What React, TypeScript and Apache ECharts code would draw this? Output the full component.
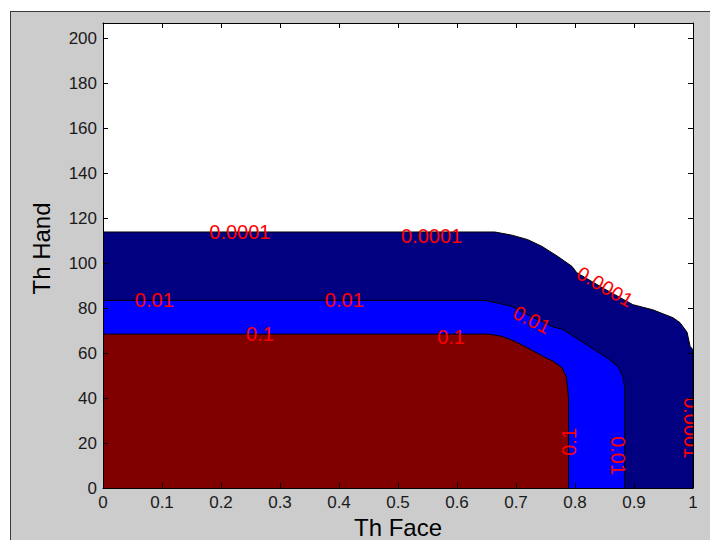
import React, { useEffect, useRef } from "react";
import * as echarts from "echarts";

// Contour boundaries: [Th Face, Th Hand]
const contour0001: number[][] = [
  [0, 113.8], [0.664, 113.8], [0.693, 112.4], [0.72, 110.4], [0.744, 107.4],
  [0.771, 102.9], [0.795, 98.5], [0.803, 95.7], [0.85, 88.5], [0.898, 81.5],
  [0.932, 79.2], [0.966, 75.7], [0.978, 73.5], [0.99, 69.2], [0.995, 63.0],
  [1.0, 61.5], [1.0, 0],
];
const contour001: number[][] = [
  [0, 83.4], [0.647, 83.4], [0.669, 82.2], [0.693, 80.7], [0.72, 77.0],
  [0.761, 71.8], [0.78, 70.4], [0.814, 64.6], [0.854, 57.9], [0.873, 53.9],
  [0.881, 49.5], [0.884, 45.0], [0.884, 0],
];
const contour01: number[][] = [
  [0, 68.4], [0.653, 68.4], [0.676, 67.4], [0.698, 65.2], [0.72, 62.2],
  [0.746, 58.5], [0.763, 56.3], [0.778, 53.5], [0.785, 49.6], [0.787, 45.2],
  [0.789, 40], [0.789, 0],
];

const levelNames = ["0.0001", "0.01", "0.1"];
const levelColors = ["#000080", "#0000ff", "#800000"];

// Contour labels: text, Th Face, Th Hand, angle (deg, counter-clockwise)
const labelTexts = ["0.0001", "0.0001", "0.0001", "0.0001", "0.01", "0.01", "0.01", "0.01", "0.1", "0.1", "0.1"];
const labelX = [0.232, 0.557, 0.851, 0.996, 0.087, 0.409, 0.727, 0.873, 0.266, 0.59, 0.79];
const labelY = [113.9, 112.2, 89.5, 26.8, 83.5, 83.5, 74.8, 14.4, 68.4, 67.0, 20.5];
const labelAngle = [0, 0, -30, -90, 0, 0, -27, -90, 0, 0, 90];

const xMin = 0;
const xMax = 1;
const xStep = 0.1;
const yMin = 0;
const yMax = 206.7;
const yStep = 20;

const FONT = 'Arial, "Liberation Sans", Helvetica, sans-serif';

export default function App() {
  const ref = useRef<HTMLDivElement>(null);
  useEffect(() => {
    if (!ref.current) return;
    const chart = echarts.init(ref.current, undefined, { renderer: "svg" });
    const contours = [contour0001, contour001, contour01];
    const tickCommon = { show: true, inside: true, length: 5, lineStyle: { color: "#000", width: 1 } };
    const lineCommon = { show: true, onZero: false, lineStyle: { color: "#000", width: 1 } };
    chart.setOption({
      animation: false,
      backgroundColor: "transparent",
      grid: {
        left: 103, top: 23, width: 590, height: 465,
        show: true, backgroundColor: "#ffffff", borderWidth: 0,
        containLabel: false, outerBoundsMode: "none",
      },
      xAxis: [
        {
          type: "value", min: xMin, max: xMax, interval: xStep, position: "bottom", z: 5,
          axisLine: lineCommon, axisTick: tickCommon, splitLine: { show: false },
          axisLabel: { fontSize: 17, color: "#1a1a1a", margin: 6, fontFamily: FONT },
          name: "Th Face", nameLocation: "middle", nameGap: 27,
          nameTextStyle: { fontSize: 24, color: "#000", fontFamily: FONT },
        },
        {
          type: "value", min: xMin, max: xMax, interval: xStep, position: "top", z: 5,
          axisLine: lineCommon, axisTick: tickCommon, splitLine: { show: false },
          axisLabel: { show: false },
        },
      ],
      yAxis: [
        {
          type: "value", min: yMin, max: yMax, interval: yStep, position: "left", z: 5,
          axisLine: lineCommon, axisTick: tickCommon, splitLine: { show: false },
          axisLabel: {
            fontSize: 17, color: "#1a1a1a", margin: 6, fontFamily: FONT,
            formatter: (v: number) => (Math.abs(v % yStep) < 1e-6 ? String(v) : ""),
          },
          name: "Th Hand", nameLocation: "middle", nameGap: 50, nameRotate: 90,
          nameTextStyle: { fontSize: 24, color: "#000", fontFamily: FONT, padding: [0, 0, 0, 14] },
        },
        {
          type: "value", min: yMin, max: yMax, interval: yStep, position: "right", z: 5,
          axisLine: lineCommon, axisTick: tickCommon, splitLine: { show: false },
          axisLabel: { show: false },
        },
      ],
      series: [
        ...contours.map((c, i) => ({
          type: "line",
          name: levelNames[i],
          data: c,
          symbol: "none",
          smooth: false,
          z: 2 + i * 0.1,
          lineStyle: { color: "#000", width: 1 },
          areaStyle: { color: levelColors[i], opacity: 1 },
        })),
        {
          type: "custom",
          clip: true,
          z: 4,
          encode: { x: 0, y: 1 },
          data: labelTexts.map((t, i) => [labelX[i], labelY[i], labelAngle[i]]),
          renderItem: (params: any, api: any) => {
            const p = api.coord([api.value(0), api.value(1)]);
            const i = params.dataIndex;
            return {
              type: "text",
              x: p[0],
              y: p[1],
              rotation: (labelAngle[i] * Math.PI) / 180,
              style: {
                text: labelTexts[i],
                fill: "#ff0000",
                fontSize: 20,
                fontFamily: FONT,
                align: "center",
                verticalAlign: "middle",
              },
            };
          },
        },
      ],
    });
    return () => chart.dispose();
  }, []);

  return (
    <div style={{ position: "fixed", left: 0, top: 0, width: 710, height: 540, background: "#ffffff", overflow: "hidden" }}>
      <div
        style={{
          position: "absolute", left: 10, top: 11, width: 710, height: 540,
          background: "#cccccc", borderLeft: "1px solid #3a3a3a", borderTop: "1px solid #3a3a3a",
        }}
      />
      <div ref={ref} style={{ position: "absolute", left: 0, top: 0, width: 710, height: 540 }} />
    </div>
  );
}
